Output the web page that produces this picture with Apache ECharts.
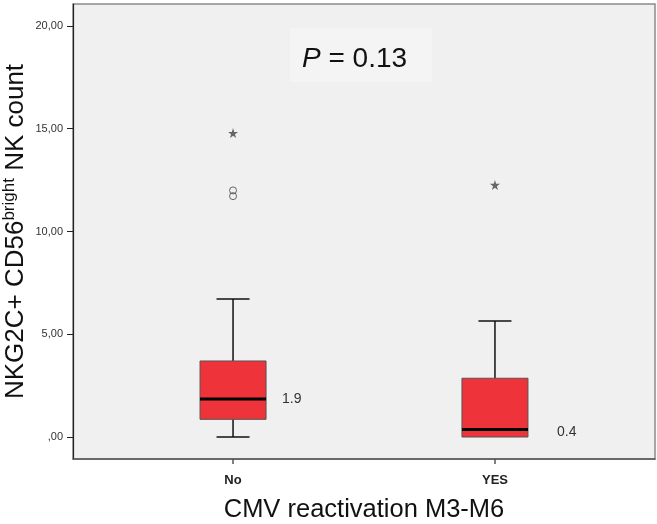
<!DOCTYPE html>
<html>
<head>
<meta charset="utf-8">
<script src="https://cdn.jsdelivr.net/npm/echarts@6/dist/echarts.min.js"></script>
<style>
html,body{margin:0;padding:0;background:#fff;}
#chart{width:657px;height:524px;}
</style>
</head>
<body>
<div id="chart"></div>
<script>
// ---- data ----
const categories = ['No', 'YES'];
const categoryPos = [1, 2];
const boxLow = [0, 0];
const boxQ1 = [0.86, 0];
const boxMedian = [1.85, 0.37];
const boxQ3 = [3.70, 2.86];
const boxHigh = [6.72, 5.64];
const medianLabels = ['1.9', '0.4'];
const extremeOutliers = [[1, 14.79], [2, 12.26]];   // stars
const mildOutliers = [[1, 12.0], [1, 11.72]];        // circles
const yTicks = [0, 5, 10, 15, 20];
const yTickLabels = [',00', '5,00', '10,00', '15,00', '20,00'];
const pText = ' = 0.13';

// ---- layout / style ----
const boxWidthUnits = 0.252;
const labelOffsets = [[16, 0], [29, 3]];
const starPath = 'path://M50,0 L61.8,35.4 L100,35.4 L69.1,57.3 L80.9,92.7 L50,70.8 L19.1,92.7 L30.9,57.3 L0,35.4 L38.2,35.4 Z';

const boxData = categoryPos.map((x, i) => [x, boxLow[i], boxQ1[i], boxMedian[i], boxQ3[i], boxHigh[i], i]);

const chart = echarts.init(document.getElementById('chart'), null, {renderer: 'canvas'});

const option = {
  animation: false,
  backgroundColor: '#ffffff',
  grid: {
    left: 73, right: 2, top: 4, bottom: 65,
    outerBoundsMode: 'none', containLabel: false,
    show: true, backgroundColor: '#f0f0f0', borderColor: '#8a8a8a', borderWidth: 1.5
  },
  xAxis: {
    type: 'value', min: 0.389, max: 2.611,
    splitLine: {show: false},
    axisLine: {show: true, onZero: false, lineStyle: {color: '#555', width: 1.5}},
    axisTick: {show: true, customValues: categoryPos, length: 5, lineStyle: {color: '#555', width: 1.5}},
    axisLabel: {
      customValues: categoryPos,
      formatter: v => categories[categoryPos.indexOf(Math.round(v))] || '',
      fontFamily: 'Liberation Sans', fontWeight: 'bold', fontSize: 13, color: '#222', margin: 15
    },
    name: 'CMV reactivation M3-M6',
    nameLocation: 'middle', nameGap: 38, nameMoveOverlap: false,
    nameTextStyle: {fontFamily: 'Liberation Sans', fontSize: 25.5, color: '#111'}
  },
  yAxis: {
    type: 'value', min: -1.07, max: 21.07,
    splitLine: {show: false},
    axisLine: {show: true, onZero: false, lineStyle: {color: '#222', width: 1.2}},
    axisTick: {show: true, customValues: yTicks, length: 6, lineStyle: {color: '#222', width: 1}},
    axisLabel: {
      customValues: yTicks,
      formatter: v => yTickLabels[yTicks.indexOf(Math.round(v))] || '',
      fontFamily: 'Liberation Sans', fontSize: 11, color: '#333', margin: 10
    },
    name: '{a|NKG2C+ CD56}{b|bright}{a| NK count}',
    nameLocation: 'middle', nameGap: 42, nameMoveOverlap: false,
    nameTextStyle: {
      color: '#111',
      rich: {
        a: {fontFamily: 'Liberation Sans', fontSize: 26, color: '#111', lineHeight: 30},
        b: {fontFamily: 'Liberation Sans', fontSize: 17, color: '#111', verticalAlign: 'top', lineHeight: 30, padding: [0, 0, 4, 0]}
      }
    }
  },
  graphic: [
    {type: 'rect', left: 290, top: 28, shape: {width: 142, height: 54}, style: {fill: '#f4f4f4'}, z: 1},
    {type: 'text', left: 302, top: 45, z: 2,
     style: {
       text: '{i|P}{n|' + pText + '}',
       rich: {
         i: {fontFamily: 'Liberation Sans', fontStyle: 'italic', fontSize: 28, fill: '#111'},
         n: {fontFamily: 'Liberation Sans', fontSize: 28, fill: '#111'}
       }
     }}
  ],
  series: [
    {
      type: 'custom',
      data: boxData,
      z: 5,
      encode: {x: 0, y: [1, 2, 3, 4, 5]},
      renderItem: function (params, api) {
        const x = api.value(0);
        const idx = api.value(6);
        const pLo = api.coord([x, api.value(1)]);
        const pQ1 = api.coord([x, api.value(2)]);
        const pMed = api.coord([x, api.value(3)]);
        const pQ3 = api.coord([x, api.value(4)]);
        const pHi = api.coord([x, api.value(5)]);
        const bw = api.size([boxWidthUnits, 0])[0];
        const cx = pMed[0];
        const lineStyle = {stroke: '#111', lineWidth: 1.5};
        const children = [];
        if (pHi[1] < pQ3[1] - 0.5) {
          children.push({type: 'line', shape: {x1: cx, y1: pHi[1], x2: cx, y2: pQ3[1]}, style: lineStyle});
          children.push({type: 'line', shape: {x1: cx - bw / 4, y1: pHi[1], x2: cx + bw / 4, y2: pHi[1]}, style: lineStyle});
        }
        if (pLo[1] > pQ1[1] + 0.5) {
          children.push({type: 'line', shape: {x1: cx, y1: pQ1[1], x2: cx, y2: pLo[1]}, style: lineStyle});
          children.push({type: 'line', shape: {x1: cx - bw / 4, y1: pLo[1], x2: cx + bw / 4, y2: pLo[1]}, style: lineStyle});
        }
        children.push({type: 'rect', shape: {x: cx - bw / 2, y: pQ3[1], width: bw, height: pQ1[1] - pQ3[1]},
          style: {fill: '#ef333b', stroke: '#555', lineWidth: 1}});
        children.push({type: 'line', shape: {x1: cx - bw / 2, y1: pMed[1], x2: cx + bw / 2, y2: pMed[1]},
          style: {stroke: '#000', lineWidth: 3}});
        const off = labelOffsets[idx];
        children.push({type: 'text', x: cx + bw / 2 + off[0], y: pMed[1] + off[1],
          style: {text: medianLabels[idx], fontFamily: 'Liberation Sans', fontSize: 14, fill: '#333',
                  verticalAlign: 'middle', align: 'left'}});
        return {type: 'group', children: children};
      }
    },
    {
      type: 'scatter', data: extremeOutliers, symbol: starPath, symbolSize: 10, z: 6,
      itemStyle: {color: '#444'}
    },
    {
      type: 'scatter', data: mildOutliers, symbol: 'circle', symbolSize: 7, z: 6,
      itemStyle: {color: 'rgba(0,0,0,0)', borderColor: '#444', borderWidth: 1}
    }
  ]
};
chart.setOption(option);
</script>
</body>
</html>
